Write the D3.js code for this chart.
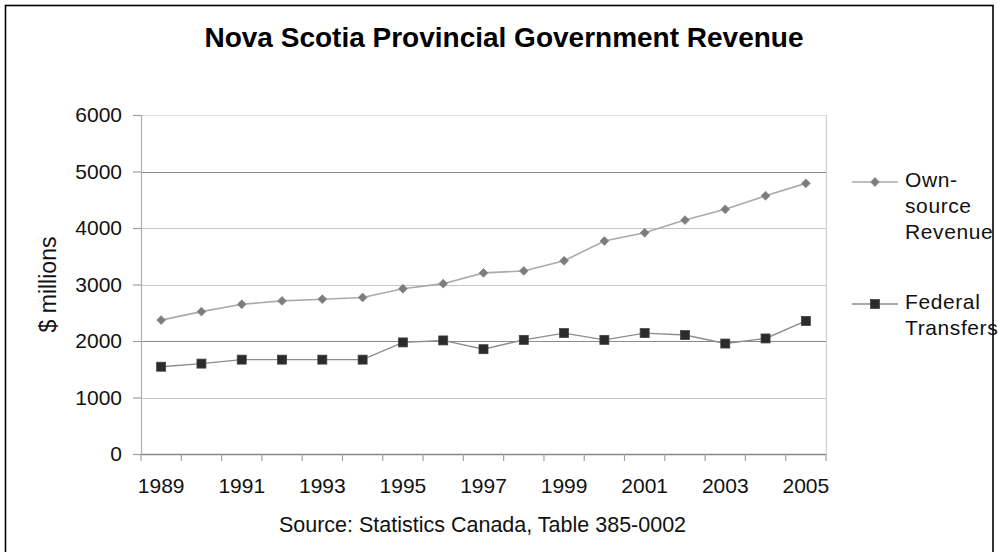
<!DOCTYPE html>
<html>
<head>
<meta charset="utf-8">
<script src="https://cdn.jsdelivr.net/npm/d3@7"></script>
<style>
  html, body { margin: 0; padding: 0; background: #fff; }
  svg { display: block; font-family: "Liberation Sans", Arial, sans-serif; }
</style>
</head>
<body>
<svg id="chart" width="998" height="552"></svg>
<script>
// Nova Scotia provincial government revenue, $ millions
const years = [1989, 1990, 1991, 1992, 1993, 1994, 1995, 1996, 1997,
               1998, 1999, 2000, 2001, 2002, 2003, 2004, 2005];
const ownSource = [2370, 2520, 2650, 2710, 2740, 2770, 2925, 3015, 3205,
                   3240, 3420, 3770, 3915, 4140, 4330, 4570, 4790];
const federal = [1545, 1600, 1670, 1670, 1670, 1670, 1975, 2010, 1855,
                 2020, 2140, 2020, 2140, 2105, 1955, 2045, 2355];
const yTicks = [0, 1000, 2000, 3000, 4000, 5000, 6000];
const xLabelYears = [1989, 1991, 1993, 1995, 1997, 1999, 2001, 2003, 2005];

const svg = d3.select("#chart");

// outer frame
svg.append("rect")
  .attr("x", 5.5).attr("y", 5.5)
  .attr("width", 987.5).attr("height", 580)
  .attr("fill", "none").attr("stroke", "#000").attr("stroke-width", 1.6);

const plot = { left: 141, right: 826, top: 115, bottom: 454 };

const x = d3.scaleBand().domain(years).range([plot.left, plot.right]).padding(0);
const y = d3.scaleLinear().domain([0, 6000]).range([plot.bottom, plot.top]);
const cx = d => x(d) + x.bandwidth() / 2;

// horizontal gridlines
const gridColor = v => (v === 5000 || v === 2000) ? "#8a8a8a" : (v === 6000 ? "#dedede" : "#c4c4c4");
svg.append("g").selectAll("line")
  .data(yTicks.filter(v => v > 0))
  .join("line")
  .attr("x1", plot.left).attr("x2", plot.right)
  .attr("y1", d => Math.round(y(d)) + 0.5).attr("y2", d => Math.round(y(d)) + 0.5)
  .attr("stroke", gridColor).attr("stroke-width", 1.2);

// right border of the plot area
svg.append("line")
  .attr("x1", plot.right + 0.5).attr("x2", plot.right + 0.5)
  .attr("y1", plot.top).attr("y2", plot.bottom)
  .attr("stroke", "#d0d0d0").attr("stroke-width", 1.2);

// y axis
const yAxis = svg.append("g")
  .attr("transform", `translate(${plot.left},0)`)
  .call(d3.axisLeft(y).tickValues(yTicks).tickSize(8).tickPadding(11).tickFormat(d3.format("d")));
yAxis.select(".domain").attr("stroke", "#b0b0b0").attr("stroke-width", 1.2);
yAxis.selectAll(".tick line").attr("stroke", "#a0a0a0").attr("stroke-width", 1.2);
yAxis.selectAll(".tick text")
  .attr("fill", "#111").attr("font-size", 21)
  .attr("font-family", "'Liberation Sans', Arial, sans-serif");

// x axis: ticks at band edges, labels on odd years
const edges = years.map(d => x(d)).concat([plot.right]);
const xg = svg.append("g");
xg.append("line")
  .attr("x1", plot.left).attr("x2", plot.right)
  .attr("y1", plot.bottom + 0.5).attr("y2", plot.bottom + 0.5)
  .attr("stroke", "#888").attr("stroke-width", 1.4);
xg.selectAll("line.tk").data(edges).join("line").attr("class", "tk")
  .attr("x1", d => d).attr("x2", d => d)
  .attr("y1", plot.bottom).attr("y2", plot.bottom + 7)
  .attr("stroke", "#a0a0a0").attr("stroke-width", 1.2);
xg.selectAll("text").data(xLabelYears).join("text")
  .attr("x", d => cx(d)).attr("y", 493)
  .attr("text-anchor", "middle").attr("font-size", 21).attr("fill", "#111")
  .text(d => d);

// series lines and markers
const line = d3.line().x((d, i) => cx(years[i])).y(d => y(d));

svg.append("path").datum(ownSource)
  .attr("d", line).attr("fill", "none")
  .attr("stroke", "#aaaaaa").attr("stroke-width", 1.6);
svg.append("path").datum(federal)
  .attr("d", line).attr("fill", "none")
  .attr("stroke", "#8c8c8c").attr("stroke-width", 1.4);

const diamond = d3.symbol().type(d3.symbolDiamond2).size(50);
svg.append("g").selectAll("path")
  .data(ownSource).join("path")
  .attr("transform", (d, i) => `translate(${cx(years[i])},${y(d)})`)
  .attr("d", diamond).attr("fill", "#7c7c7c").attr("stroke", "#8a8a8a").attr("stroke-width", 0.8);

svg.append("g").selectAll("rect")
  .data(federal).join("rect")
  .attr("x", (d, i) => cx(years[i]) - 4.5).attr("y", d => y(d) - 4.5)
  .attr("width", 9).attr("height", 9)
  .attr("fill", "#2b2b2b").attr("stroke", "#444").attr("stroke-width", 0.8);

// title
svg.append("text")
  .attr("x", 504).attr("y", 47)
  .attr("text-anchor", "middle").attr("font-size", 28).attr("font-weight", "bold").attr("fill", "#000")
  .text("Nova Scotia Provincial Government Revenue");

// y axis title
svg.append("text")
  .attr("transform", "translate(56,284.5) rotate(-90)")
  .attr("text-anchor", "middle").attr("font-size", 23).attr("fill", "#111")
  .text("$ millions");

// source note
svg.append("text")
  .attr("x", 482.5).attr("y", 531.5)
  .attr("text-anchor", "middle").attr("font-size", 21.5).attr("fill", "#111")
  .text("Source: Statistics Canada, Table 385-0002");

// legend
const legend = [
  { label: ["Own-", "source", "Revenue"], y: 182, kind: "diamond", color: "#aaaaaa" },
  { label: ["Federal", "Transfers"], y: 304, kind: "square", color: "#8c8c8c" }
];
const lg = svg.append("g");
legend.forEach(item => {
  lg.append("line")
    .attr("x1", 852).attr("x2", 898).attr("y1", item.y).attr("y2", item.y)
    .attr("stroke", item.color).attr("stroke-width", 1.5);
  if (item.kind === "diamond") {
    lg.append("path").attr("transform", `translate(875,${item.y})`)
      .attr("d", diamond).attr("fill", "#7c7c7c").attr("stroke", "#8a8a8a").attr("stroke-width", 0.8);
  } else {
    lg.append("rect").attr("x", 870.5).attr("y", item.y - 4.5).attr("width", 9).attr("height", 9)
      .attr("fill", "#2b2b2b").attr("stroke", "#444").attr("stroke-width", 0.8);
  }
  const t = lg.append("text").attr("x", 905).attr("y", item.y + 5)
    .attr("font-size", 21).attr("fill", "#111").attr("letter-spacing", 0.6);
  item.label.forEach((s, i) => {
    t.append("tspan").attr("x", 905).attr("dy", i === 0 ? 0 : 25.8).text(s);
  });
});
</script>
</body>
</html>
